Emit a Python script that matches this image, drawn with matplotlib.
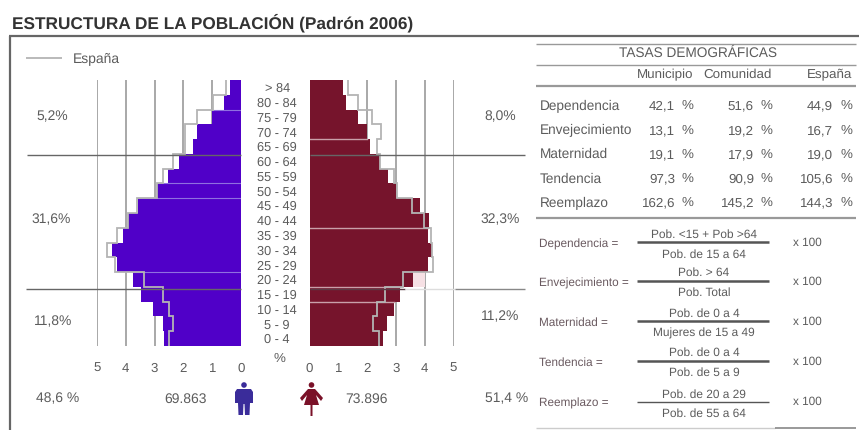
import matplotlib
matplotlib.use('Agg')
import matplotlib.pyplot as plt
from matplotlib.patches import Circle, Polygon
import numpy as np

plt.rcParams['font.family'] = ['Liberation Sans', 'DejaVu Sans']
plt.rcParams['text.hinting'] = 'no_hinting'

W, H = 859, 430

# data
ages = ['> 84', '80 - 84', '75 - 79', '70 - 74', '65 - 69', '60 - 64', '55 - 59', '50 - 54', '45 - 49',
        '40 - 44', '35 - 39', '30 - 34', '25 - 29', '20 - 24', '15 - 19', '10 - 14', '5 - 9', '0 - 4']
hombres = [0.38, 0.59, 1.00, 1.52, 1.66, 2.15, 2.53, 2.93, 3.59,
           3.93, 4.10, 4.47, 4.32, 3.74, 3.47, 3.05, 2.70, 2.66]
hombres_esp = [0.53, 0.97, 1.52, 1.94, 1.94, 2.37, 2.70, 2.93, 3.60,
               3.93, 4.32, 4.65, 4.37, 3.37, 2.70, 2.50, 2.37, 2.50]
mujeres = [1.15, 1.26, 1.70, 2.01, 2.11, 2.45, 2.74, 3.00, 3.82,
           4.16, 4.13, 4.25, 4.13, 3.59, 3.15, 2.92, 2.68, 2.55]
mujeres_esp = [1.33, 1.67, 2.16, 2.48, 2.34, 2.45, 2.92, 3.03, 3.55,
               3.96, 4.22, 4.25, 4.28, 3.26, 2.63, 2.34, 2.20, 2.43]
ticks = [0, 1, 2, 3, 4, 5]

columnas = ['Municipio', 'Comunidad', 'España']
tasas = ['Dependencia', 'Envejecimiento', 'Maternidad', 'Tendencia', 'Reemplazo']
municipio = ['42,1', '13,1', '19,1', '97,3', '162,6']
comunidad = ['51,6', '19,2', '17,9', '90,9', '145,2']
espana = ['44,9', '16,7', '19,0', '105,6', '144,3']

formulas = ['Dependencia =', 'Envejecimiento =', 'Maternidad =', 'Tendencia =', 'Reemplazo =']
numeradores = ['Pob. <15 + Pob >64', 'Pob. > 64', 'Pob. de 0 a 4', 'Pob. de 0 a 4', 'Pob. de 20 a 29']
denominadores = ['Pob. de 15 a 64', 'Pob. Total', 'Mujeres de 15 a 49', 'Pob. de 5 a 9', 'Pob. de 55 a 64']

AZUL = '#5000c8'
ROJO = '#76142c'
GRIS = '#5c5c5c'
REJILLA = '#9a9a9a'
ESP = '#b4b4b4'


def axes_px(x0, x1, y0, y1):
    return fig.add_axes([x0 / W, 1 - y1 / H, (x1 - x0) / W, (y1 - y0) / H])


fig = plt.figure(figsize=(W / 100, H / 100), dpi=100, facecolor='white')
y = np.arange(len(ages))
edges = np.arange(len(ages) + 1) - 0.5

# piramide
ax_h = axes_px(97, 241, 80, 346)
ax_m = axes_px(309.5, 453.5, 80, 346)
for ax, vals, esp, col in [(ax_h, hombres, hombres_esp, AZUL), (ax_m, mujeres, mujeres_esp, ROJO)]:
    ax.barh(y, vals, height=1, color=col, zorder=2)
    ax.stairs(esp, edges, orientation='horizontal', baseline=None, color=ESP, lw=1.3, zorder=3)
    ax.set_ylim(len(ages) - 0.5, -0.5)
    ax.set_xticks(ticks)
    ax.set_xticklabels([str(t) for t in ticks], fontsize=9.5, color=GRIS)
    ax.tick_params(axis='x', length=0, pad=12)
    ax.grid(axis='x', color=REJILLA, lw=1.2)
    ax.set_axisbelow(True)
    for s in ax.spines.values():
        s.set_visible(False)
    ax.patch.set_alpha(0)
ax_h.set_xlim(5, 0)
ax_m.set_xlim(0, 5)
ax_m.set_yticks([])
ax_h.yaxis.tick_right()
ax_h.set_yticks(y)
ax_h.set_yticklabels(ages, fontsize=9.2, color=GRIS, ha='center')
ax_h.tick_params(axis='y', length=0, pad=26)

# zona clara junto a 20-24 mujeres
ax_m.barh(13, 4 - mujeres[13], left=mujeres[13], height=1, color='#f6e0e4', zorder=1)
# lineas claras sobre las barras
for e in [1.5, 6.5, 7.5, 12.5]:
    ax_h.plot([0, hombres[int(e + 0.5)]], [e, e], color='#8f6fe0', lw=0.8, zorder=2.5)
for e in [3.5, 9.5, 13.5, 14.5]:
    ax_m.plot([0, min(mujeres[int(e)], mujeres[int(e + 1)])], [e, e], color='#c9a0aa', lw=1, zorder=2.5)

# capa en pixeles
ov = fig.add_axes([0, 0, 1, 1], zorder=5)
ov.set_xlim(0, W)
ov.set_ylim(H, 0)
ov.axis('off')


def txt(x, y, s, ha='left', size=9.6, color=GRIS, **kw):
    ov.text(x, y, s, ha=ha, va='center', fontsize=size, color=color, **kw)


def linea(x0, x1, y0, y1=None, color='#8c8c8c', lw=1.0):
    ov.plot([x0, x1], [y0, y0 if y1 is None else y1], color=color, lw=lw, solid_capstyle='butt')


txt(12, 23, 'ESTRUCTURA DE LA POBLACIÓN (Padrón 2006)', size=12.4, color='#333333', fontweight='bold')
linea(9, W, 36, color='#666666', lw=1.6)
linea(9.5, 9.5, 36, H, color='#666666', lw=1.6)

linea(26, 62, 58, color=ESP, lw=1.3)
txt(73, 58, 'España', size=10)

# lineas de grupos de edad
linea(27, 241, 154.5, color='#666666')
linea(310, 525, 154.5, color='#666666')
linea(26, 241, 288.5, color='#666666')
linea(310, 405, 288.5, color='#5a3a44')
linea(405, 455, 288.5, color='#dddddd')
linea(455, 525, 288.5, color='#888888')

for x, yy, s in [(52, 117, '5,2%'), (51, 220, '31,6%'), (53, 322, '11,8%'),
                 (500, 117, '8,0%'), (500, 220, '32,3%'), (500, 317, '11,2%'),
                 (58, 399, '48,6 %'), (186, 399, '69.863'),
                 (367, 399, '73.896'), (507, 399, '51,4 %')]:
    txt(x, yy, s, ha='center', size=10)
txt(279, 359, '%', ha='center')

# iconos
azul_i = '#3a2c9a'
ov.add_patch(Circle((244, 385), 2.8, color=azul_i, lw=0))
ov.add_patch(Polygon([(237, 389), (251, 389), (253, 392), (253, 403), (250, 403), (249.5, 415), (245, 415),
                      (244.5, 404), (243.5, 404), (243, 415), (238.5, 415), (238, 403), (235, 403), (235, 392)],
                     color=azul_i, lw=0))
rojo_i = '#7a1128'
ov.add_patch(Circle((311.5, 385), 2.8, color=rojo_i, lw=0))
ov.add_patch(Polygon([(308, 389), (315, 389), (323, 398), (321, 401), (316, 395), (319, 405), (312.5, 405),
                      (312.5, 416), (310.5, 416), (310.5, 405), (304, 405), (307, 395), (302, 401), (300, 398)],
                     color=rojo_i, lw=0))

# tabla de tasas
X0, X1 = 536, 856
linea(X0, X1, 43.5, color='#999999', lw=1.0)
linea(X0, X1, 64.5, color='#999999', lw=1.0)
linea(X0, X1, 85.5, color='#999999', lw=1.6)
linea(X0, X1, 218, color='#999999', lw=1.6)
txt(698, 53, 'TASAS DEMOGRÁFICAS', ha='center', size=9.8)
for c, x in zip(columnas, [693, 772, 852]):
    txt(x, 75, c, ha='right')
filas_y = [106, 130.5, 154.5, 179, 203]
for i, yy in enumerate(filas_y):
    txt(540, yy, tasas[i], size=9.8)
    for vals, xn, xp in [(municipio, 675, 693), (comunidad, 754, 772), (espana, 833, 852)]:
        txt(xn, yy, vals[i], ha='right')
        txt(xp, yy, '%', ha='right')

# formulas
form_y = [244, 283, 323, 363, 403]
num_y = [235, 273, 314, 353, 395]
raya_y = [242, 281, 321, 361, 402]
den_y = [255, 293, 333, 373, 414]
for i in range(5):
    txt(539, form_y[i], formulas[i], size=8.5, color='#6a5a60')
    txt(704, num_y[i], numeradores[i], ha='center', size=8.6)
    txt(704, den_y[i], denominadores[i], ha='center', size=8.6)
    linea(637, 769, raya_y[i], color='#555555', lw=1.0 if i == 4 else 1.8)
    txt(793, form_y[i] - 1, 'x 100', size=8.5)
linea(X0, 775, 428, color='#cccccc', lw=1.0)
linea(775, X1, 428, color='#888888', lw=1.2)

fig.savefig('out.png', dpi=100)
